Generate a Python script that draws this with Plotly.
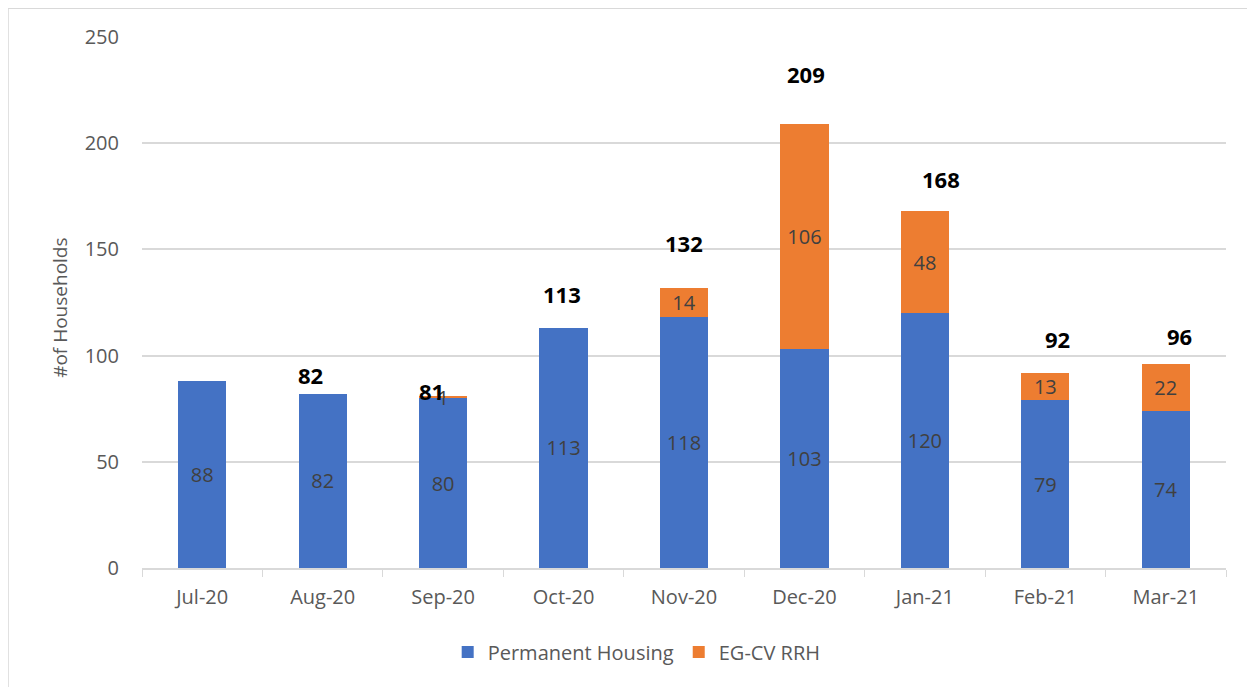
import plotly.graph_objects as go

months = ["Jul-20", "Aug-20", "Sep-20", "Oct-20", "Nov-20", "Dec-20", "Jan-21", "Feb-21", "Mar-21"]
permanent_housing = [88, 82, 80, 113, 118, 103, 120, 79, 74]
egcv_rrh = [None, None, 1, None, 14, 106, 48, 13, 22]
totals = [None, 82, 81, 113, 132, 209, 168, 92, 96]

# label offsets in pixels (style, not data)
total_xshift = [0, -12, -12, -2, 0, 2, 16, 12, 14]
total_yshift = [0, 19, 5, 34, 45, 50, 32, 34, 28]

FONT = "Open Sans"
GRAY = "#595959"

fig = go.Figure()
fig.add_trace(go.Bar(
    x=months, y=permanent_housing, name="Permanent Housing",
    marker=dict(color="#4472C4", line=dict(width=0)),
    text=[str(v) for v in permanent_housing], textposition="inside",
    insidetextanchor="middle", textangle=0,
    textfont=dict(family=FONT, size=20, color="#404040"),
))
fig.add_trace(go.Bar(
    x=months, y=egcv_rrh, name="EG-CV RRH",
    marker=dict(color="#ED7D31", line=dict(width=0)),
    text=["" if v is None else str(v) for v in egcv_rrh], textposition="inside",
    insidetextanchor="middle", textangle=0,
    textfont=dict(family=FONT, size=20, color="#404040"),
))

for m, t, dx, dy in zip(months, totals, total_xshift, total_yshift):
    if t is None:
        continue
    fig.add_annotation(x=m, y=t, text=f"<b>{t}</b>", showarrow=False,
                       xshift=dx, yshift=dy, yanchor="middle", xanchor="center",
                       font=dict(family=FONT, size=22, color="#000000"))

fig.add_annotation(xref="paper", yref="paper", x=-0.0756, y=0.49,
                   xanchor="center", yanchor="middle",
                   text="#of Households", textangle=-90, showarrow=False,
                   font=dict(family=FONT, size=19, color=GRAY))

# chart border
fig.add_shape(type="rect", xref="paper", yref="paper",
              x0=-0.1236, x1=1.05, y0=-0.3, y1=1.054,
              line=dict(color="#d9d9d9", width=1.5), layer="below")

fig.update_layout(
    barmode="stack", bargap=0.6,
    width=1247, height=679,
    margin=dict(l=134, r=29, t=29, b=119),
    paper_bgcolor="white", plot_bgcolor="white",
    font=dict(family=FONT, color=GRAY),
    uniformtext=dict(minsize=20, mode="show"),
    showlegend=True,
    legend=dict(orientation="h", x=0.282, xanchor="left", y=-0.158, yanchor="middle",
                traceorder="normal",
                font=dict(family=FONT, size=20, color=GRAY), itemwidth=30,
                tracegroupgap=0),
    xaxis=dict(showline=True, linecolor="#d9d9d9", linewidth=1.5,
               ticks="outside", tickson="boundaries", ticklen=7, tickcolor="#d9d9d9",
               tickfont=dict(family=FONT, size=20, color=GRAY), ticklabelstandoff=10,
               showgrid=False),
    yaxis=dict(range=[0, 250], dtick=50, showgrid=True, gridcolor="#d9d9d9", gridwidth=1.5,
               zeroline=False, showline=False, ticks="",
               tickfont=dict(family=FONT, size=20, color=GRAY), ticklabelstandoff=22),
)

fig.write_html("out.html")
